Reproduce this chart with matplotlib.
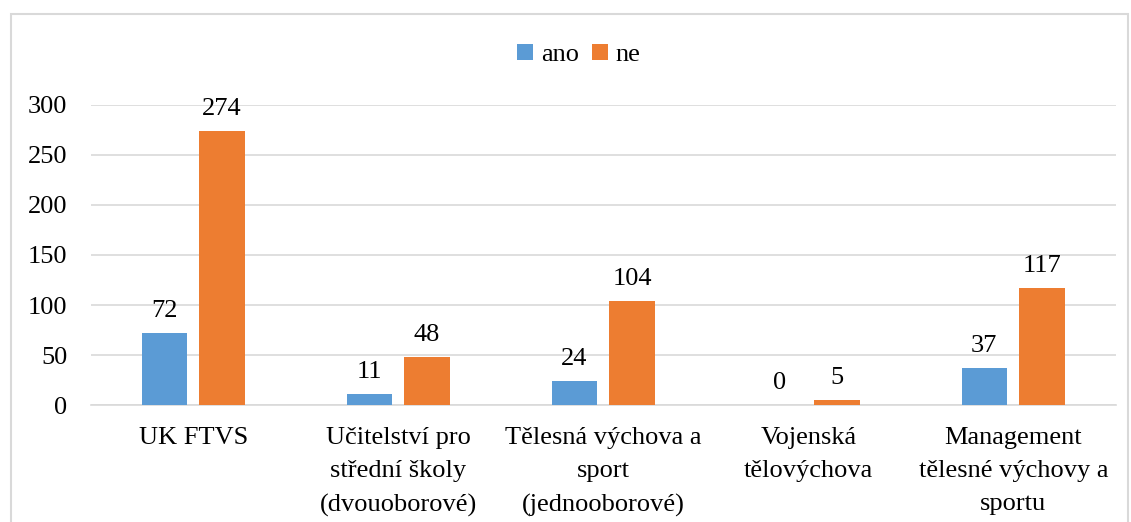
import numpy as np
import matplotlib.pyplot as plt
from matplotlib.patches import Rectangle

plt.rcParams['font.family'] = ['Liberation Serif', 'DejaVu Serif']

categories = ['UK FTVS', 'Učitelství pro\nstřední školy\n(dvouoborové)',
              'Tělesná výchova a\nsport\n(jednooborové)', 'Vojenská\ntělovýchova',
              'Management\ntělesné výchovy a\nsportu']
ano = [72, 11, 24, 0, 37]
ne = [274, 48, 104, 5, 117]
series_names = ['ano', 'ne']
colors = ['#5B9BD5', '#ED7D31']

fig = plt.figure(figsize=(11.31, 5.22), dpi=100)
ax = fig.add_axes([0.0805, 0.2241, 0.9062, 0.5748])

x = np.arange(len(categories))
w = 0.22
offs = [-0.143, 0.139]
for vals, name, c, o in zip([ano, ne], series_names, colors, offs):
    bars = ax.bar(x + o, vals, w, color=c, label=name, zorder=3)
    for b, v in zip(bars, vals):
        ax.annotate(str(v), (b.get_x() + b.get_width() / 2, v), xytext=(0, 8),
                    textcoords='offset points', ha='center', va='bottom', fontsize=19)

ax.set_xlim(-0.5, 4.5)
ax.set_ylim(0, 300)
ax.set_yticks(range(0, 301, 50))
ax.set_xticks(x)
ax.set_xticklabels(categories, fontsize=19, linespacing=1.65, va='top')
ax.tick_params(axis='both', length=0, labelsize=19)
ax.tick_params(axis='y', pad=17)
ax.tick_params(axis='x', pad=16)
ax.grid(axis='y', color='#D9D9D9', linewidth=1.2, zorder=0)
for s in ['top', 'right', 'left']:
    ax.spines[s].set_visible(False)
ax.spines['bottom'].set_color('#D9D9D9')
ax.spines['bottom'].set_linewidth(1.2)

fig.legend(loc='center', bbox_to_anchor=(579 / 1131, 1 - 55 / 522), ncol=2, frameon=False,
           fontsize=19, handlelength=0.6, handleheight=0.6, handletextpad=0.3, columnspacing=0.5)

fig.patches.append(Rectangle((11 / 1131, -0.05), 1117 / 1131, 1.05 - 14 / 522, transform=fig.transFigure,
                             fill=False, edgecolor='#D9D9D9', linewidth=1.5))

fig.savefig('out.png', dpi=100)
